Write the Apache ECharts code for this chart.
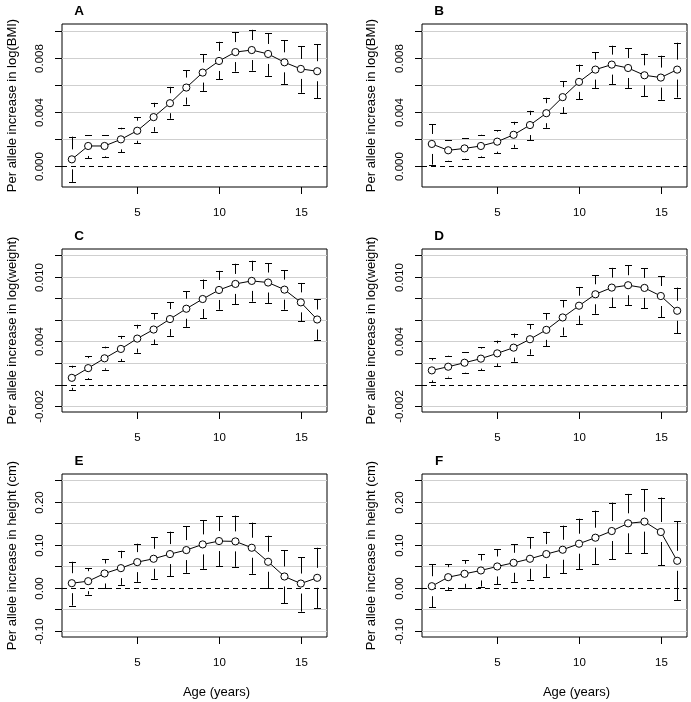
<!DOCTYPE html>
<html><head><meta charset="utf-8">
<script src="https://cdn.jsdelivr.net/npm/echarts@6/dist/echarts.min.js"></script>
<style>html,body{margin:0;padding:0;background:#fff}#c{width:691px;height:702px}</style>
</head><body><div id="c"></div>
<script>
// ---------- data ----------
const ages = [1,2,3,4,5,6,7,8,9,10,11,12,13,14,15,16];

const A_est = [0.00049,0.00148,0.00148,0.00197,0.00261,0.00362,0.00465,0.00581,0.00692,0.00778,0.00844,0.00859,0.0083,0.00768,0.00719,0.00702];
const A_lo  = [-0.00118,0.00059,0.00069,0.00101,0.00167,0.00254,0.0035,0.00455,0.00556,0.00642,0.00699,0.00706,0.00667,0.00608,0.00542,0.00502];
const A_hi  = [0.00217,0.00229,0.00229,0.00283,0.00362,0.00468,0.00586,0.00709,0.00827,0.0092,0.0099,0.01009,0.00982,0.00933,0.00889,0.00903];

const B_est = [0.00163,0.00116,0.0013,0.00148,0.0018,0.00231,0.00303,0.00391,0.0051,0.00623,0.00714,0.00751,0.00726,0.00672,0.00655,0.00714];
const B_lo  = [0.0001,0.0004,0.00054,0.00069,0.00096,0.00135,0.00192,0.00283,0.00389,0.00495,0.00578,0.00608,0.00578,0.00517,0.0049,0.00507];
const B_hi  = [0.0031,0.0019,0.00207,0.00231,0.00266,0.00327,0.00409,0.00505,0.00628,0.00751,0.00844,0.00891,0.00871,0.00832,0.00817,0.00913];

const C_est = [0.00062,0.00152,0.00243,0.0033,0.00426,0.0051,0.00607,0.00703,0.00793,0.00877,0.00933,0.00961,0.00946,0.0088,0.00762,0.00603];
const C_lo  = [-0.0005,0.00047,0.00137,0.00218,0.00295,0.00373,0.00451,0.00535,0.00616,0.00694,0.00743,0.00768,0.00756,0.00694,0.00585,0.00414];
const C_hi  = [0.00174,0.00264,0.00351,0.00451,0.00554,0.00659,0.00762,0.00865,0.00974,0.01054,0.0112,0.01148,0.01126,0.01058,0.00942,0.0079];

const D_est = [0.00131,0.00165,0.00202,0.0024,0.00289,0.00342,0.0042,0.00507,0.00622,0.00731,0.00837,0.00899,0.00921,0.00896,0.00821,0.00684];
const D_lo  = [0.00022,0.00065,0.00103,0.00134,0.00171,0.00212,0.00277,0.00355,0.00454,0.00557,0.00656,0.00715,0.00734,0.00706,0.00622,0.00476];
const D_hi  = [0.00243,0.00267,0.00299,0.00348,0.00407,0.00473,0.0056,0.00663,0.00781,0.00905,0.01014,0.01082,0.01107,0.01079,0.01005,0.00899];

const E_est = [0.0101,0.0148,0.0327,0.0451,0.0591,0.0669,0.0778,0.0871,0.1003,0.1081,0.1073,0.0925,0.0599,0.0257,0.0093,0.0226];
const E_lo  = [-0.042,-0.0163,-0.0016,0.0062,0.0132,0.0202,0.0264,0.0342,0.0435,0.0498,0.0482,0.0319,-0.0016,-0.0365,-0.056,-0.0474];
const E_hi  = [0.0599,0.0443,0.0661,0.0855,0.1019,0.1166,0.1299,0.1431,0.1563,0.1664,0.1672,0.1509,0.1205,0.0871,0.07,0.0925];

const F_est = [0.0031,0.0241,0.0319,0.0397,0.049,0.0575,0.0669,0.0778,0.0879,0.1019,0.1159,0.1314,0.1493,0.1532,0.1291,0.0622];
const F_lo  = [-0.0459,-0.0054,-0.0008,0.0023,0.0078,0.0132,0.0179,0.0249,0.0334,0.0428,0.0544,0.0661,0.0809,0.0801,0.0521,-0.0288];
const F_hi  = [0.0544,0.0544,0.0638,0.077,0.0894,0.1011,0.1166,0.1299,0.1439,0.1602,0.1788,0.1975,0.2177,0.2286,0.2092,0.154];

const xTicks = [5, 10, 15];
const xTickLabels = ['5', '10', '15'];

const bmiTicks  = [0, 0.002, 0.004, 0.006, 0.008, 0.010];
const bmiLabels = ['0.000', '', '0.004', '', '0.008', ''];
const wtTicks   = [-0.002, 0, 0.002, 0.004, 0.006, 0.008, 0.010, 0.012];
const wtLabels  = ['-0.002', '', '', '0.004', '', '', '0.010', ''];
const htTicks   = [-0.10, -0.05, 0, 0.05, 0.10, 0.15, 0.20, 0.25];
const htLabels  = ['-0.10', '', '0.00', '', '0.10', '', '0.20', ''];

const panelLetters = ['A', 'B', 'C', 'D', 'E', 'F'];
const yTitles = ['Per allele increase in log(BMI)', 'Per allele increase in log(BMI)',
                 'Per allele increase in log(weight)', 'Per allele increase in log(weight)',
                 'Per allele increase in height (cm)', 'Per allele increase in height (cm)'];
const xTitle = 'Age (years)';

// ---------- layout ----------
const colLeft = [62, 422], boxW = 265;
const rowTop = [24, 249, 474], boxH = 163;
const xRange = [0.4, 16.6];
const yRanges = [[-0.00156, 0.01052], [-0.00156, 0.01052],
                 [-0.00255, 0.01257], [-0.00255, 0.01257],
                 [-0.115, 0.264], [-0.115, 0.264]];

const panels = [
  {est: A_est, lo: A_lo, hi: A_hi, ticks: bmiTicks, labels: bmiLabels},
  {est: B_est, lo: B_lo, hi: B_hi, ticks: bmiTicks, labels: bmiLabels},
  {est: C_est, lo: C_lo, hi: C_hi, ticks: wtTicks, labels: wtLabels},
  {est: D_est, lo: D_lo, hi: D_hi, ticks: wtTicks, labels: wtLabels},
  {est: E_est, lo: E_lo, hi: E_hi, ticks: htTicks, labels: htLabels},
  {est: F_est, lo: F_lo, hi: F_hi, ticks: htTicks, labels: htLabels}
];

const FONT = '"Liberation Sans", Arial, sans-serif';
const tickFont = '11.5px ' + FONT;
const titleFont = '13px ' + FONT;
const px = v => Math.round(v) + 0.5;

const grids = [], xAxes = [], yAxes = [], series = [], graphics = [];

panels.forEach((p, i) => {
  const col = i % 2, row = Math.floor(i / 2);
  const left = colLeft[col], top = rowTop[row];
  grids.push({left: left, top: top, width: boxW, height: boxH, show: true,
              borderColor: '#000', borderWidth: 1, backgroundColor: 'transparent', containLabel: false});
  xAxes.push({type: 'value', gridIndex: i, min: xRange[0], max: xRange[1], show: false});
  yAxes.push({type: 'value', gridIndex: i, min: yRanges[i][0], max: yRanges[i][1], show: false});

  // y ticks, grid lines, labels, dashed zero line
  series.push({
    type: 'custom', xAxisIndex: i, yAxisIndex: i, clip: false, silent: true, z: 1,
    data: p.ticks.map((v, k) => [1, v, k]),
    renderItem: function (params, api) {
      const cs = params.coordSys;
      const v = api.value(1), k = api.value(2);
      const y = px(api.coord([1, v])[1]);
      const x0 = cs.x, x1 = cs.x + cs.width;
      const ch = [];
      if (v === 0) {
        ch.push({type: 'line', shape: {x1: x0, y1: y, x2: x1, y2: y},
                 style: {stroke: '#000', lineWidth: 1, lineDash: [5, 4]}});
      } else {
        ch.push({type: 'line', shape: {x1: x0, y1: y, x2: x1, y2: y},
                 style: {stroke: '#cfcfcf', lineWidth: 1.2}});
      }
      ch.push({type: 'line', shape: {x1: x0 - 7, y1: y, x2: x0, y2: y},
               style: {stroke: '#000', lineWidth: 1}});
      const lab = p.labels[k];
      if (lab) {
        ch.push({type: 'text', x: x0 - 22, y: y, rotation: Math.PI / 2,
                 style: {text: lab, fill: '#000', font: tickFont,
                         align: 'center', verticalAlign: 'middle',
                         textAlign: 'center', textVerticalAlign: 'middle'}});
      }
      return {type: 'group', children: ch};
    }
  });

  // x ticks
  series.push({
    type: 'custom', xAxisIndex: i, yAxisIndex: i, clip: false, silent: true, z: 1,
    data: xTicks.map((v, k) => [v, 0, k]),
    renderItem: function (params, api) {
      const cs = params.coordSys;
      const x = px(api.coord([api.value(0), 0])[0]);
      const yb = cs.y + cs.height;
      return {type: 'group', children: [
        {type: 'line', shape: {x1: x, y1: yb, x2: x, y2: yb + 7}, style: {stroke: '#000', lineWidth: 1}},
        {type: 'text', x: x, y: yb + 26,
         style: {text: xTickLabels[api.value(2)], fill: '#000', font: tickFont,
                 align: 'center', verticalAlign: 'middle', textAlign: 'center', textVerticalAlign: 'middle'}}
      ]};
    }
  });

  // error bars with a gap around the point
  series.push({
    type: 'custom', xAxisIndex: i, yAxisIndex: i, clip: false, silent: true, z: 2,
    data: ages.map((a, k) => [a, p.est[k], p.lo[k], p.hi[k]]),
    renderItem: function (params, api) {
      const x = px(api.coord([api.value(0), api.value(1)])[0]);
      const yc = api.coord([api.value(0), api.value(1)])[1];
      const ylo = api.coord([api.value(0), api.value(2)])[1];
      const yhi = api.coord([api.value(0), api.value(3)])[1];
      const gap = 10, cap = 3.5;
      const st = {stroke: '#000', lineWidth: 1};
      const ch = [];
      ch.push({type: 'line', shape: {x1: x - cap, y1: px(yhi), x2: x + cap, y2: px(yhi)}, style: st});
      ch.push({type: 'line', shape: {x1: x - cap, y1: px(ylo), x2: x + cap, y2: px(ylo)}, style: st});
      if (yhi < yc - gap) ch.push({type: 'line', shape: {x1: x, y1: yhi, x2: x, y2: yc - gap}, style: st});
      if (ylo > yc + gap) ch.push({type: 'line', shape: {x1: x, y1: yc + gap, x2: x, y2: ylo}, style: st});
      return {type: 'group', children: ch};
    }
  });

  // estimate line
  series.push({
    type: 'line', xAxisIndex: i, yAxisIndex: i, z: 3,
    data: ages.map((a, k) => [a, p.est[k]]),
    showSymbol: false, symbol: 'none',
    lineStyle: {color: '#000', width: 1},
    emphasis: {disabled: true}, silent: true
  });

  // open circles (thin outline, white inside)
  series.push({
    type: 'custom', xAxisIndex: i, yAxisIndex: i, clip: false, silent: true, z: 4,
    data: ages.map((a, k) => [a, p.est[k]]),
    renderItem: function (params, api) {
      const c = api.coord([api.value(0), api.value(1)]);
      return {type: 'circle', shape: {cx: c[0], cy: c[1], r: 3.6},
              style: {fill: '#fff', stroke: '#000', lineWidth: 1}};
    }
  });

  // text: panel letter, y title
  graphics.push({type: 'text', x: left + 17, y: top - 13,
    style: {text: panelLetters[i], font: 'bold 13.5px ' + FONT, fill: '#000',
            align: 'center', verticalAlign: 'middle', textAlign: 'center', textVerticalAlign: 'middle'}});
  graphics.push({type: 'text', x: left - (col === 0 ? 50 : 51), y: top + boxH / 2, rotation: Math.PI / 2,
    style: {text: yTitles[i], font: titleFont, fill: '#000',
            align: 'center', verticalAlign: 'middle', textAlign: 'center', textVerticalAlign: 'middle'}});
  if (row === 2) {
    graphics.push({type: 'text', x: left + boxW / 2 + 22, y: top + boxH + 55,
      style: {text: xTitle, font: titleFont, fill: '#000',
              align: 'center', verticalAlign: 'middle', textAlign: 'center', textVerticalAlign: 'middle'}});
  }
});

const chart = echarts.init(document.getElementById('c'), null, {renderer: 'canvas'});
chart.setOption({
  animation: false,
  backgroundColor: '#fff',
  grid: grids, xAxis: xAxes, yAxis: yAxes, series: series,
  graphic: {elements: graphics}
});
</script></body></html>
